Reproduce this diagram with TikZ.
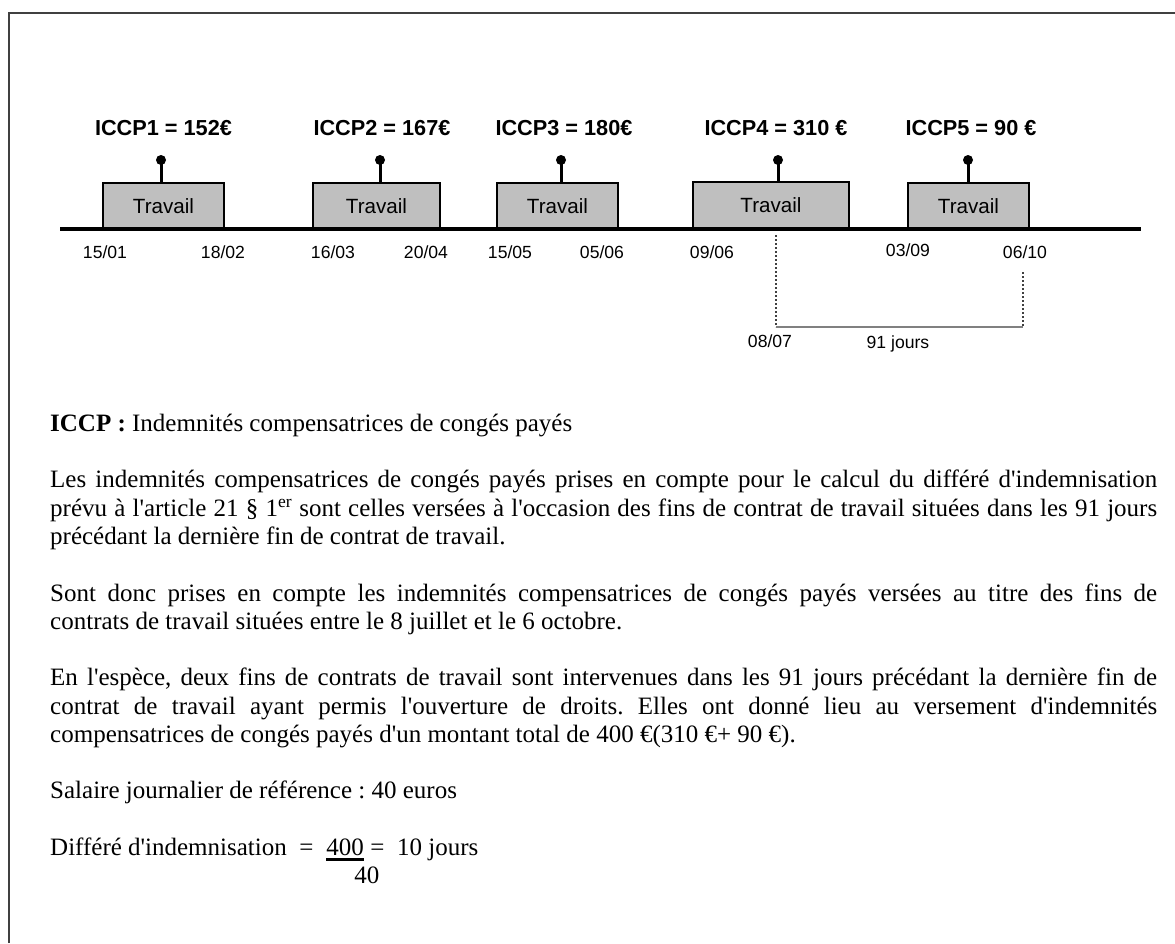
\documentclass[tikz,border=0pt]{standalone}
\usepackage{fontspec}
\usetikzlibrary{calc}
\newfontfamily\tnr{Liberation Serif}
\newfontfamily\arial{Liberation Sans}
\frenchspacing
\begin{document}
\begin{tikzpicture}[x=1pt,y=-1pt,
  body/.style={font=\tnr\fontsize{25}{28.3}\selectfont\frenchspacing, inner sep=0pt},
  para/.style={body, text width=1107pt, align=justify, anchor=north west},
  workbox/.style={draw=black, line width=1.6pt, fill=black!25, minimum height=46pt, inner sep=0pt, font=\arial\fontsize{20.6}{24}\selectfont},
  iccp/.style={font=\arial\bfseries\fontsize{21.7}{26}\selectfont, inner sep=0pt, anchor=base},
  datelbl/.style={font=\arial\fontsize{17.6}{21}\selectfont, inner sep=0pt, anchor=base},
  stem/.style={line width=3pt},
  pin/.style={fill=black},
  axis/.style={line width=4pt},
  dots/.style={line width=1.8pt, black!75, dash pattern=on 1.6pt off 2.4pt},
  bracket/.style={line width=2.4pt, black!50},
  frame/.style={line width=2pt, black!75}
]
\useasboundingbox (0,0) rectangle (1175,943);
% frame
\coordinate (fb) at (9.3,943);
\coordinate (ft) at (9.3,12.7);
\coordinate (fr) at (1175,12.7);
\draw[frame] (fb) -- (ft) -- (fr);

% work boxes
\node[workbox, minimum width=121pt] (b1) at (163.5,206) {Travail};
\node[workbox, minimum width=127pt] (b2) at (376.5,206) {Travail};
\node[workbox, minimum width=121pt] (b3) at (557.5,206) {Travail};
\node[workbox, minimum width=156pt, minimum height=47pt] (b4) at (771,205.5) {Travail};
\node[workbox, minimum width=121pt] (b5) at (968.5,206) {Travail};

% pins
\coordinate (p1) at (161,160);
\coordinate (p2) at (380,160);
\coordinate (p3) at (561,160);
\coordinate (p4) at (778,160);
\coordinate (p5) at (968,160);
\draw[stem] (p1) -- (p1 |- b1.north);
\draw[stem] (p2) -- (p2 |- b2.north);
\draw[stem] (p3) -- (p3 |- b3.north);
\draw[stem] (p4) -- (p4 |- b4.north);
\draw[stem] (p5) -- (p5 |- b5.north);
\fill[pin] (p1) circle (5pt);
\fill[pin] (p2) circle (5pt);
\fill[pin] (p3) circle (5pt);
\fill[pin] (p4) circle (5pt);
\fill[pin] (p5) circle (5pt);

% axis
\coordinate (a0) at (60,229);
\coordinate (a1) at (1141,229);
\draw[axis] (a0) -- (a1);

% ICCP labels
\node[iccp] (l1) at (163.5,135.7) {ICCP1 = 152€};
\node[iccp] (l2) at (382,135.7) {ICCP2 = 167€};
\node[iccp] (l3) at (564,135.7) {ICCP3 = 180€};
\node[iccp] (l4) at (776,135.7) {ICCP4 = 310 €};
\node[iccp] (l5) at (971,135.7) {ICCP5 = 90 €};

% dates
\node[datelbl] (t1) at (105,258) {15/01};
\node[datelbl] (t2) at (223,258) {18/02};
\node[datelbl] (t3) at (333,258) {16/03};
\node[datelbl] (t4) at (426,258) {20/04};
\node[datelbl] (t5) at (510,258) {15/05};
\node[datelbl] (t6) at (602,258) {05/06};
\node[datelbl] (t7) at (712,258) {09/06};
\node[datelbl] (t8) at (908,256) {03/09};
\node[datelbl] (t9) at (1025,258) {06/10};

% 91-day bracket
\coordinate (dA) at (776,235);
\coordinate (dB) at (776,327);
\coordinate (dC) at (1023,272);
\coordinate (dD) at (1023,327);
\draw[dots] (dA) -- (dB);
\draw[dots] (dC) -- (dD);
\draw[bracket] (dB) -- (dD);
\node[datelbl] (t10) at (770,347) {08/07};
\node[datelbl] (j91) at (898,348) {91 jours};

% text
\node[body, anchor=base west] (h0) at (50,431) {\textbf{ICCP :} Indemnités compensatrices de congés payés};
\node[para] (q1) at (50,467.8) {\strut Les indemnités compensatrices de congés payés prises en compte pour le calcul du différé d'indemnisation\linebreak prévu à l'article 21 § 1\textsuperscript{er} sont celles versées à l'occasion des fins de contrat de travail situées dans les 91 jours\linebreak précédant la dernière fin de contrat de travail.};
\node[para] (q2) at (50,581.0) {\strut Sont donc prises en compte les indemnités compensatrices de congés payés versées au titre des fins de\linebreak contrats de travail situées entre le 8 juillet et le 6 octobre.};
\node[para] (q3) at (50,665.9) {\strut En l'espèce, deux fins de contrats de travail sont intervenues dans les 91 jours précédant la dernière fin de\linebreak contrat de travail ayant permis l'ouverture de droits. Elles ont donné lieu au versement d'indemnités\linebreak compensatrices de congés payés d'un montant total de 400 €(310 €+ 90 €).};
\node[body, anchor=base west] (sal) at (50,798.9) {Salaire journalier de référence : 40 euros};
\node[body, anchor=base west] (df) at (50,855.5) {Différé d'indemnisation\ \ =\ \ \ };
\node[body, anchor=base west] (num) at (df.base east) {400\ };
\node[body, anchor=base west] (res) at (num.base east) {\ =\ \ 10 jours};
\node[body, anchor=base west] (den) at ($(num.base west)+(28,28.3)$) {40};
\draw[line width=2.2pt] ($(num.base west)+(0,4)$) -- ($(num.base east)+(0,4)$);
\end{tikzpicture}
\end{document}
